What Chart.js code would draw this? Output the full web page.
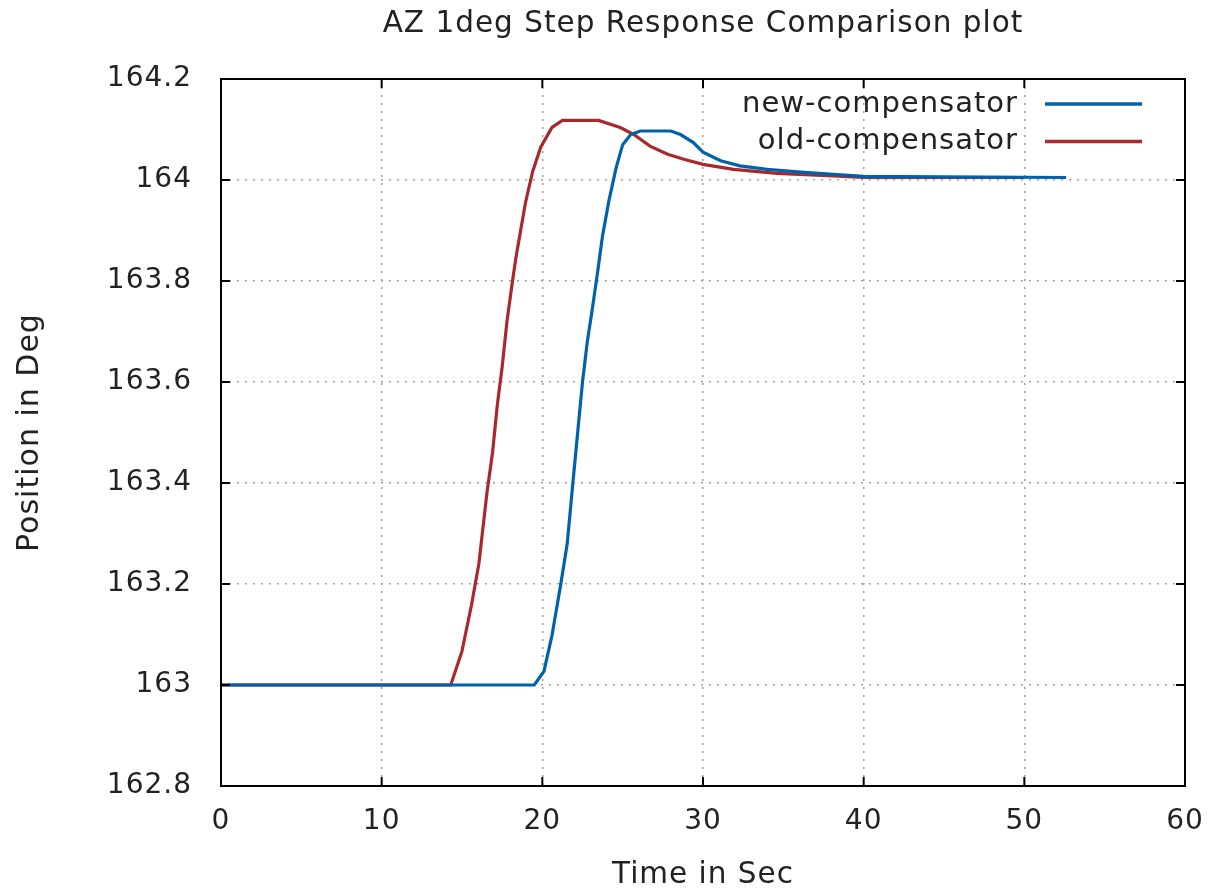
<!DOCTYPE html>
<html>
<head>
<meta charset="utf-8">
<script src="https://cdn.jsdelivr.net/npm/chart.js@4"></script>
<style>
  html, body { margin: 0; padding: 0; background: #fff; }
  canvas { display: block; }
</style>
</head>
<body>
<canvas id="stepChart" width="1213" height="894"></canvas>
<script>
// data
var newTime = [0, 19.5, 20.1, 20.6, 21.15, 21.55, 21.9, 22.2, 22.5, 22.8, 23.1, 23.45, 23.75, 24.15, 24.6, 25.0, 25.5, 26.1, 28.0, 28.6, 29.4, 30.0, 31.1, 32.3, 34.0, 35.9, 38.1, 40.0, 52.6];
var newPos = [163, 163, 163.027, 163.098, 163.2, 163.28, 163.4, 163.5, 163.6, 163.68, 163.742, 163.82, 163.89, 163.96, 164.025, 164.07, 164.09, 164.097, 164.097, 164.09, 164.074, 164.055, 164.038, 164.028, 164.021, 164.016, 164.011, 164.007, 164.005];

var oldTime = [0, 14.3, 15.0, 15.6, 16.05, 16.55, 16.9, 17.2, 17.5, 17.8, 18.1, 18.35, 18.65, 18.95, 19.4, 19.9, 20.6, 21.25, 23.5, 24.85, 25.7, 26.7, 27.8, 28.8, 30.0, 31.9, 34.6, 38.1, 40.0, 50.0];
var oldPos = [163, 163, 163.067, 163.16, 163.24, 163.38, 163.46, 163.555, 163.63, 163.72, 163.79, 163.845, 163.9, 163.955, 164.017, 164.065, 164.104, 164.118, 164.118, 164.104, 164.09, 164.067, 164.051, 164.041, 164.031, 164.021, 164.013, 164.008, 164.005, 164.005];

var seriesNames = ['new-compensator', 'old-compensator'];
var seriesColors = ['#0062ad', '#a8292b'];

var xTicks = [0, 10, 20, 30, 40, 50, 60];
var yTicks = [162.8, 163, 163.2, 163.4, 163.6, 163.8, 164, 164.2];

var FONT = 'DejaVu Sans';

function toPoints(xs, ys) {
    return xs.map(function (x, i) { return { x: x, y: ys[i] }; });
}

// gnuplot spaces its letters a little wider than the canvas does
var spacingPlugin = {
    id: 'spacing',
    beforeLayout: function (chart) { chart.ctx.letterSpacing = '1px'; },
    beforeDraw: function (chart) { chart.ctx.letterSpacing = '1px'; }
};

// gnuplot-style frame with inward ticks on all four sides
var framePlugin = {
    id: 'frame',
    afterDatasetsDraw: function (chart) {
        var ctx = chart.ctx;
        var a = chart.chartArea;
        var xs = chart.scales.x, ys = chart.scales.y;
        var len = 9;
        ctx.save();
        ctx.strokeStyle = '#000';
        ctx.lineWidth = 2;
        ctx.beginPath();
        xTicks.forEach(function (v) {
            var px = xs.getPixelForValue(v);
            ctx.moveTo(px, a.bottom); ctx.lineTo(px, a.bottom - len);
            ctx.moveTo(px, a.top); ctx.lineTo(px, a.top + len);
        });
        yTicks.forEach(function (v) {
            var py = ys.getPixelForValue(v);
            ctx.moveTo(a.left, py); ctx.lineTo(a.left + len, py);
            ctx.moveTo(a.right, py); ctx.lineTo(a.right - len, py);
        });
        ctx.stroke();
        ctx.strokeRect(a.left, a.top, a.right - a.left, a.bottom - a.top);
        ctx.restore();
    }
};

// key in the top right corner: text first, line sample after it
var keyPlugin = {
    id: 'key',
    afterDraw: function (chart) {
        var ctx = chart.ctx;
        var a = chart.chartArea;
        ctx.save();
        ctx.font = '29px "' + FONT + '"';
        ctx.textAlign = 'right';
        ctx.textBaseline = 'middle';
        chart.data.datasets.forEach(function (ds, i) {
            var y = a.top + 25 + i * 37.5;
            ctx.fillStyle = '#222';
            ctx.fillText(ds.label, a.right - 167, y);
            ctx.strokeStyle = ds.borderColor;
            ctx.lineWidth = 3.5;
            ctx.beginPath();
            ctx.moveTo(a.right - 140, y);
            ctx.lineTo(a.right - 43, y);
            ctx.stroke();
        });
        ctx.restore();
    }
};

var stepChart = new Chart(document.getElementById('stepChart'), {
    type: 'line',
    data: {
        datasets: [
            {
                label: seriesNames[0],
                data: toPoints(newTime, newPos),
                borderColor: seriesColors[0],
                borderWidth: 3.2,
                pointRadius: 0,
                tension: 0
            },
            {
                label: seriesNames[1],
                data: toPoints(oldTime, oldPos),
                borderColor: seriesColors[1],
                borderWidth: 3.2,
                pointRadius: 0,
                tension: 0
            }
        ]
    },
    options: {
        animation: false,
        responsive: false,
        layout: { padding: { left: 0, right: 28, top: 0, bottom: 0 } },
        plugins: {
            legend: { display: false },
            tooltip: { enabled: false },
            title: {
                display: true,
                fullSize: false,
                text: 'AZ 1deg Step Response Comparison plot',
                color: '#222',
                font: { family: FONT, size: 29.5, weight: 'normal' },
                padding: { top: 7, bottom: 36.6 }
            }
        },
        scales: {
            x: {
                type: 'linear',
                min: 0,
                max: 60,
                afterBuildTicks: function (axis) {
                    axis.ticks = xTicks.map(function (v) { return { value: v }; });
                },
                afterFit: function (axis) {
                    axis.height = 108;
                    axis.paddingLeft = 0;
                    axis.paddingRight = 0;
                },
                ticks: {
                    color: '#222',
                    font: { family: FONT, size: 28 },
                    padding: 19,
                    maxRotation: 0
                },
                grid: { color: '#a0a0a0', lineWidth: 1.5, drawTicks: false },
                border: { display: false, dash: [2, 6] },
                title: {
                    display: true,
                    text: 'Time in Sec',
                    color: '#222',
                    font: { family: FONT, size: 29.5 },
                    padding: { top: 0, bottom: 1 }
                }
            },
            y: {
                type: 'linear',
                min: 162.8,
                max: 164.2,
                afterBuildTicks: function (axis) {
                    axis.ticks = yTicks.map(function (v) { return { value: v }; });
                },
                afterFit: function (axis) { axis.width = 221; },
                ticks: {
                    color: '#222',
                    font: { family: FONT, size: 28 },
                    padding: 29,
                    callback: function (v) { return String(+Number(v).toFixed(1)); }
                },
                grid: { color: '#a0a0a0', lineWidth: 1.5, drawTicks: false },
                border: { display: false, dash: [2, 6] },
                title: {
                    display: true,
                    text: 'Position in Deg',
                    color: '#222',
                    font: { family: FONT, size: 30 },
                    padding: { top: 12, bottom: 0 }
                }
            }
        }
    },
    plugins: [spacingPlugin, framePlugin, keyPlugin, {
        id: 'whiteBg',
        beforeDraw: function (chart) {
            var ctx = chart.ctx;
            ctx.save();
            ctx.globalCompositeOperation = 'destination-over';
            ctx.fillStyle = 'white';
            ctx.fillRect(0, 0, chart.width, chart.height);
            ctx.restore();
        }
    }]
});
</script>
</body>
</html>
